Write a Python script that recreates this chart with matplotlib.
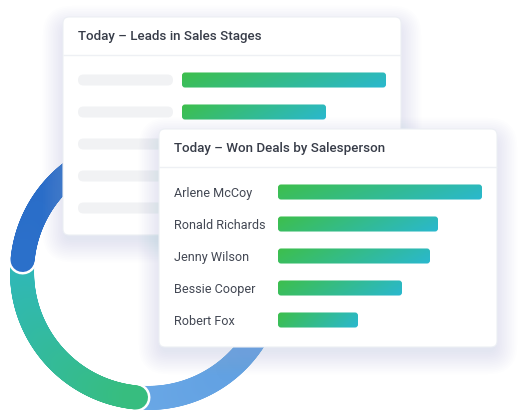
import numpy as np
import matplotlib
matplotlib.use('Agg')
import matplotlib.pyplot as plt
from matplotlib.patches import FancyBboxPatch
from matplotlib.collections import LineCollection
from matplotlib.colors import to_rgb
import matplotlib.transforms as mtransforms

plt.rcParams['font.family'] = ['Roboto', 'DejaVu Sans']

# ---------------- data ----------------
title_back = "Today – Leads in Sales Stages"
title_front = "Today – Won Deals by Salesperson"
won_names = ["Arlene McCoy", "Ronald Richards", "Jenny Wilson", "Bessie Cooper", "Robert Fox"]
won_values = [51, 40, 38, 31, 20]
lead_values = [51, 36, 30, 24, 16]
donut_values = [25, 25, 50]          # dark blue, teal-green, light blue
donut_grad = [("#2766c4", "#2b70ca"), ("#2fb7bd", "#37bd7f"), ("#6aa8e6", "#4c8ed8")]
bar_grad = ("#3dbf4c", "#2ab8cf")

W, H = 522, 420
DPI = 100
fig = plt.figure(figsize=(W / DPI, H / DPI), dpi=DPI)
fig.patch.set_facecolor("white")
PT = 72 / DPI


def px_axes(left, top, width, height, z):
    ax = fig.add_axes([left / W, 1 - (top + height) / H, width / W, height / H], zorder=z)
    ax.set_facecolor("none")
    return ax


def pixel_layer(z):
    ax = px_axes(0, 0, W, H, z)
    ax.set_xlim(0, W)
    ax.set_ylim(H, 0)
    ax.axis("off")
    return ax


def card(ax, x0, y0, x1, y1, title, sep_y):
    # soft shadow
    for i in range(14):
        g = 1 + i * 1.7
        ax.add_patch(FancyBboxPatch((x0 - g + 3, y0 - g + 12), (x1 - x0) + 2 * g - 6, (y1 - y0) + 2 * g - 8,
                                    boxstyle="round,pad=0,rounding_size=%f" % (6 + g),
                                    fc="#9fb6dc", ec="none", alpha=0.018))
    ax.add_patch(FancyBboxPatch((x0, y0), x1 - x0, y1 - y0, boxstyle="round,pad=0,rounding_size=6",
                                fc="white", ec="#eceff4", lw=0.8))
    ax.plot([x0, x1], [sep_y, sep_y], color="#eef0f4", lw=1.0, solid_capstyle="butt")
    ax.text(x0 + 15, (y0 + sep_y) / 2 + 0.5, title, fontsize=13.4 * PT, fontweight="medium",
            color="#373c48", ha="left", va="center")


def grad_image(ax, patch, x0, x1, y0, y1, c0, c1):
    c0, c1 = np.array(to_rgb(c0)), np.array(to_rgb(c1))
    nx, ny = 128, 16
    xx, yy = np.meshgrid(np.linspace(0, 1, nx), np.linspace(0, 1, ny))
    t = np.clip(0.85 * xx + 0.15 * yy, 0, 1)[..., None]
    img = c0 * (1 - t) + c1 * t
    im = ax.imshow(img, extent=(x0, x1, y1, y0), origin="upper", aspect="auto",
                   interpolation="bilinear", zorder=3)
    im.set_clip_path(patch)


def bar_chart(ax, values, labels, xpx, ypx):
    n = len(values)
    bars = ax.barh(np.arange(n), values, height=0.47, color="none")
    ax.set_xlim(0, max(values))
    ax.set_ylim(n - 0.5, -0.5)
    ux = max(values) / xpx
    uy = n / ypx
    for b in bars:
        x, y, w, h = b.get_x(), b.get_y(), b.get_width(), b.get_height()
        p = FancyBboxPatch((x, y), w, h, boxstyle="round,pad=0,rounding_size=%f" % (3 * ux),
                           mutation_aspect=uy / ux, fc="none", ec="none")
        ax.add_patch(p)
        grad_image(ax, p, x, x + w, y, y + h, *bar_grad)
        b.remove()
    ax.set_xticks([])
    ax.set_yticks(np.arange(n))
    ax.set_yticklabels(labels)
    for s in ax.spines.values():
        s.set_visible(False)
    ax.tick_params(axis="y", length=0, pad=104 * PT, labelsize=12.6 * PT, labelcolor="#434854")
    for lab in ax.get_yticklabels():
        lab.set_horizontalalignment("left")
    ax.set_xlim(0, max(values))
    ax.set_ylim(n - 0.5, -0.5)
    return bars


# ---------------- donut ----------------
axd = px_axes(148 - 160, 272 - 160, 320, 320, 1)
axd.set_xlim(-160, 160)
axd.set_ylim(-160, 160)
axd.axis("off")
R_out, R_in = 138, 114
R_mid = (R_out + R_in) / 2
thick = R_out - R_in
cap = np.degrees((thick / 2) / R_mid)
fracs = np.array(donut_values, float) / sum(donut_values)
starts = 90 + 360 * np.concatenate([[0], np.cumsum(fracs)[:-1]])
ends = starts + 360 * fracs
order = [2, 1, 0]  # drawing order so each segment's end overlaps the next one
for i in order:
    a0, a1 = starts[i] - cap, ends[i] - cap
    th = np.radians(np.linspace(a0, a1, 200))
    xs, ys = R_mid * np.cos(th), R_mid * np.sin(th)
    pts = np.column_stack([xs, ys])
    segs = np.stack([pts[:-1], pts[1:]], axis=1)
    axd.plot(xs, ys, color="white", lw=(thick + 5) * PT, solid_capstyle="round")
    c0, c1 = np.array(to_rgb(donut_grad[i][0])), np.array(to_rgb(donut_grad[i][1]))
    t = np.linspace(0, 1, len(segs))[:, None]
    cols = c0 * (1 - t) + c1 * t
    lc = LineCollection(segs, colors=cols, linewidths=thick * PT, capstyle="round")
    axd.add_collection(lc)

# ---------------- back card ----------------
axbc = pixel_layer(2)
card(axbc, 63, 17, 401, 235, title_back, 55)
axbb = px_axes(182, 64, 204, 160, 3)
bar_chart(axbb, lead_values, [""] * len(lead_values), 204, 160)
tr = mtransforms.blended_transform_factory(axbc.transData, axbb.transData)
uy = len(lead_values) / 160
for k in range(len(lead_values)):
    axbb.add_patch(FancyBboxPatch((78, k - 5.5 * uy), 95, 11 * uy,
                                  boxstyle="round,pad=0,rounding_size=5.5", mutation_aspect=uy,
                                  fc="#f1f2f4", ec="none", transform=tr, clip_on=False))

# ---------------- front card ----------------
axfc = pixel_layer(4)
card(axfc, 159, 129, 497, 347, title_front, 167)
axfb = px_axes(278, 176, 204, 160, 5)
bar_chart(axfb, won_values, won_names, 204, 160)

fig.savefig("out.png", dpi=DPI, facecolor="white")
